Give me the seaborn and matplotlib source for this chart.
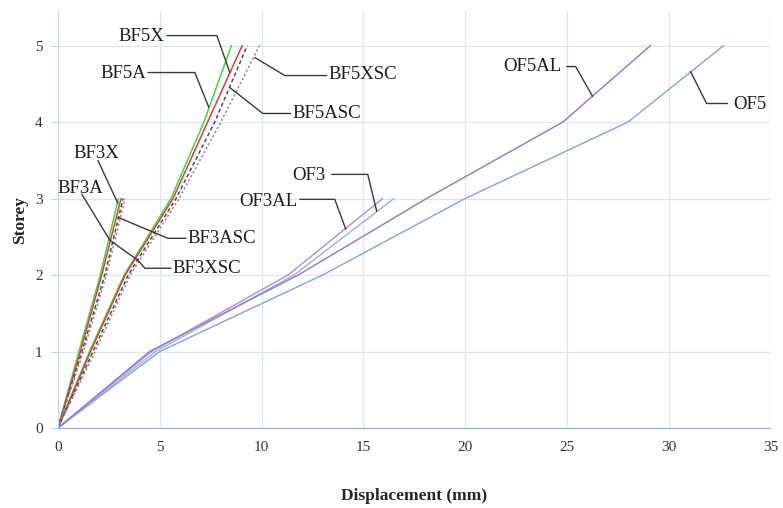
import matplotlib
matplotlib.use('Agg')
import matplotlib.pyplot as plt
import seaborn as sns

# storey levels
storeys3 = [0, 1, 2, 3]
storeys5 = [0, 1, 2, 3, 4, 5]

# displacement (mm)
bf3x = [0, 1.03, 2.08, 2.97]
bf3a = [0, 1.1, 2.15, 3.1]
bf3asc = [0, 1.18, 2.3, 3.2]
bf3xsc = [0, 1.25, 2.38, 3.3]

bf5x = [0, 1.55, 3.25, 5.55, 7.17, 8.52]
bf5a = [0, 1.6, 3.3, 5.65, 7.35, 9.05]
bf5asc = [0, 1.72, 3.45, 5.8, 7.7, 9.3]
bf5xsc = [0, 1.82, 3.55, 5.95, 8.0, 9.9]

of3 = [0, 4.8, 11.6, 16.5]
of3al = [0, 4.6, 11.3, 15.95]
of5 = [0, 5.0, 13.0, 20.0, 28.0, 32.7]
of5al = [0, 4.5, 11.8, 18.1, 24.8, 29.1]

series = [
    (bf3x, storeys3, '#3ddc3d', '-'),
    (bf3a, storeys3, '#e8383d', '-'),
    (bf3asc, storeys3, '#4a4a58', (0, (2.5, 1.8))),
    (bf3xsc, storeys3, '#8c8c9c', (0, (1.5, 1.5))),
    (bf5x, storeys5, '#3ddc3d', '-'),
    (bf5a, storeys5, '#e8383d', '-'),
    (bf5asc, storeys5, '#4a4a58', (0, (2.5, 1.8))),
    (bf5xsc, storeys5, '#8c8c9c', (0, (1.5, 1.5))),
    (of3, storeys3, '#9db8e2', '-'),
    (of3al, storeys3, '#b596d6', '-'),
    (of5, storeys5, '#8eaada', '-'),
    (of5al, storeys5, '#9c7fc8', '-'),
]

# label text, text position (px), leader polyline (px), alignment
labels = [
    ('BF5X', (164, 36), [(167, 35), (217, 35), (230, 72)], 'right'),
    ('BF5A', (146, 73), [(148, 72), (195, 72), (209, 107)], 'right'),
    ('BF5XSC', (329, 74), [(255, 57), (285, 75), (327, 75)], 'left'),
    ('BF5ASC', (293, 113), [(230, 87), (263, 113), (291, 113)], 'left'),
    ('BF3X', (74, 153), [(98, 160), (118, 203)], 'left'),
    ('BF3A', (58, 188), [(82, 194), (110, 240)], 'left'),
    ('BF3ASC', (188, 238), [(118, 217), (168, 238), (186, 238)], 'left'),
    ('BF3XSC', (173, 268), [(110, 240), (138, 260), (145, 268), (171, 268)], 'left'),
    ('OF3', (326, 175), [(332, 174), (368, 174), (377, 211)], 'right'),
    ('OF3AL', (298, 201), [(300, 199), (335, 199), (346, 229)], 'right'),
    ('OF5AL', (562, 66), [(567, 66), (576, 66), (593, 96)], 'right'),
    ('OF5', (734, 104), [(728, 103), (707, 103), (691, 71)], 'left'),
]


def px(p):
    return ((p[0] - 58) / 20.37, (428 - p[1]) / 76.6)


if __name__ == "__main__":
    sns.set_style('white')
    plt.rcParams['font.family'] = ['Liberation Serif', 'DejaVu Serif']

    fig, ax = plt.subplots(figsize=(7.83, 5.08), dpi=100)
    fig.subplots_adjust(left=0.074, right=0.984, bottom=0.1575, top=0.978)

    for xs, ys, color, ls in series:
        sns.lineplot(x=xs, y=ys, sort=False, estimator=None, color=color,
                     linestyle=ls, linewidth=1.1, ax=ax)

    for text, pos, path, ha in labels:
        pts = [px(p) for p in path]
        ax.plot([p[0] for p in pts], [p[1] for p in pts], color='#3a3a3a',
                linewidth=1.0)
        tx, ty = px(pos)
        ax.text(tx, ty, text, ha=ha, va='center', fontsize=13.5,
                color='#1c1c1c')

    ax.set_xlim(0, 35)
    ax.set_ylim(0, 5.45)
    ax.set_xticks(range(0, 36, 5))
    ax.set_yticks(range(0, 6))
    ax.grid(True, color='#dde4f2', linewidth=0.9)
    ax.set_axisbelow(True)
    for side in ['top', 'right']:
        ax.spines[side].set_visible(False)
    ax.spines['left'].set_color('#c8d0e4')
    ax.spines['bottom'].set_color('#98a8dc')
    ax.tick_params(axis='y', left=True, length=5, color='#c8d0e4',
                   labelsize=11, pad=6, labelcolor='#333333')
    ax.tick_params(axis='x', bottom=False, labelsize=11, pad=6,
                   labelcolor='#333333')

    ax.set_xlabel('Displacement (mm)', fontsize=12.5, fontweight='bold',
                  labelpad=24)
    ax.set_ylabel('Storey', fontsize=12.5, fontweight='bold', labelpad=5)

    fig.savefig('out.png', dpi=100)
